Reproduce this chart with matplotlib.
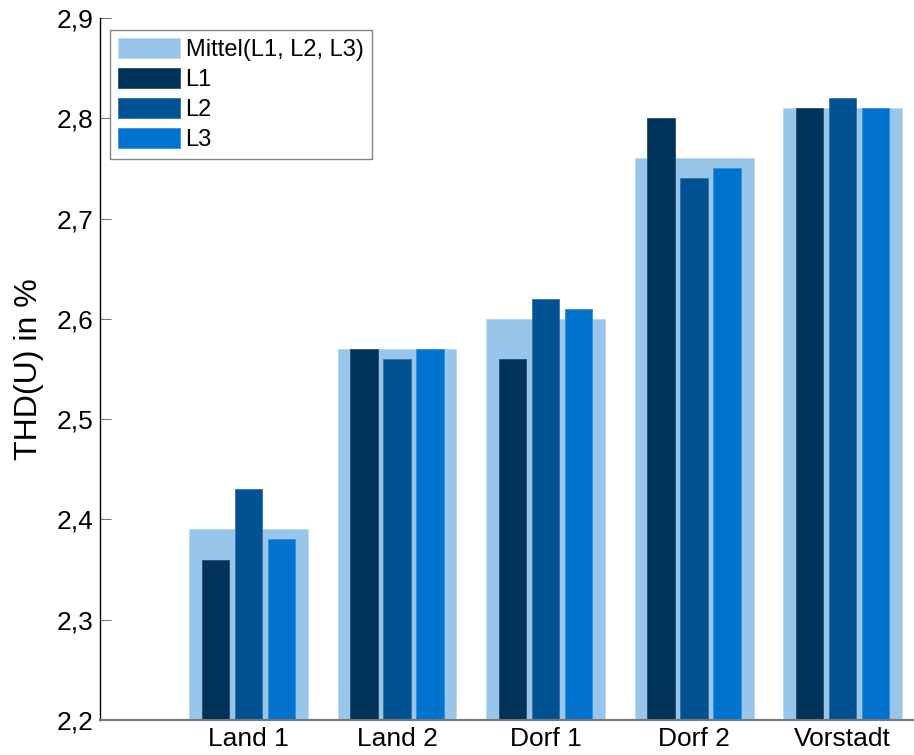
import numpy as np
import matplotlib
matplotlib.use("Agg")
import matplotlib.pyplot as plt

plt.rcParams['font.family'] = ['Liberation Sans', 'DejaVu Sans']

categories = ["Land 1", "Land 2", "Dorf 1", "Dorf 2", "Vorstadt"]
mittel = [2.39, 2.57, 2.60, 2.76, 2.81]
l1 = [2.36, 2.57, 2.56, 2.80, 2.81]
l2 = [2.43, 2.56, 2.62, 2.74, 2.82]
l3 = [2.38, 2.57, 2.61, 2.75, 2.81]
yticks = [2.2, 2.3, 2.4, 2.5, 2.6, 2.7, 2.8, 2.9]

base = 2.2
x = np.arange(1, len(categories) + 1)

fig = plt.figure(figsize=(9.14, 7.55), dpi=100)
ax = fig.add_axes([0.1094, 0.0464, 0.8906, 0.9298])

ax.bar(x, np.array(mittel) - base, bottom=base, width=0.8, color="#98C6EA",
       edgecolor="#b5d6f0", linewidth=0.6, label="Mittel(L1, L2, L3)")
w = 0.185
off = 0.222
ax.bar(x - off, np.array(l1) - base, bottom=base, width=w, color="#003359",
       edgecolor="#2a4d6b", linewidth=0.6, label="L1")
ax.bar(x, np.array(l2) - base, bottom=base, width=w, color="#005293",
       edgecolor="#3a6fa0", linewidth=0.6, label="L2")
ax.bar(x + off, np.array(l3) - base, bottom=base, width=w, color="#0073CF",
       edgecolor="#3a8fd8", linewidth=0.6, label="L3")

ax.set_xlim(0, 5.48)
ax.set_ylim(2.2, 2.9)
ax.set_yticks(yticks)
ax.set_yticklabels([f"{v:.1f}".replace(".", ",") for v in yticks], fontsize=19)
ax.set_xticks(x)
ax.set_xticklabels(categories, fontsize=19)
ax.tick_params(axis="x", length=0, pad=5)
ax.tick_params(axis="y", direction="in", length=8, width=0.6, color="#555555", pad=5)
ax.set_ylabel("THD(U) in %", fontsize=23, labelpad=9)

ax.spines["top"].set_visible(False)
ax.spines["right"].set_visible(False)
ax.spines["left"].set_color("black")
ax.spines["left"].set_linewidth(1.0)
ax.spines["bottom"].set_color("#777777")
ax.spines["bottom"].set_linewidth(1.5)

leg = ax.legend(loc="upper left", bbox_to_anchor=(0.0123, 0.983), fontsize=17,
                frameon=True, fancybox=False, handlelength=2.6, handleheight=0.9,
                handletextpad=0.25, labelspacing=0.3, borderpad=0.35,
                borderaxespad=0)
leg.get_frame().set_edgecolor("#666666")
leg.get_frame().set_linewidth(1.0)

fig.savefig("out.png", dpi=100)
